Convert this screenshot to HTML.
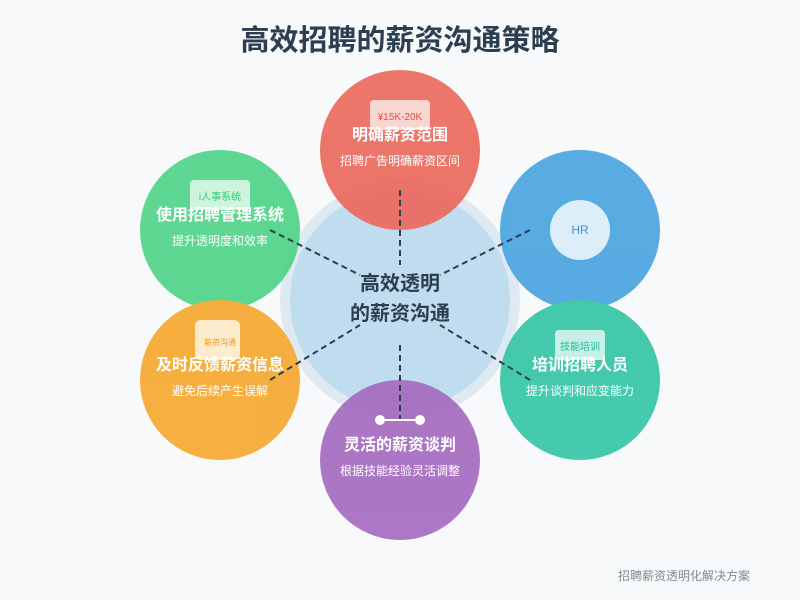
<!DOCTYPE html>
<html><head><meta charset="utf-8"><style>
html,body{margin:0;padding:0;background:#f7f9fb;}
svg{display:block;font-family:"Liberation Sans","Noto Sans CJK SC",sans-serif;}
</style></head><body>
<svg width="800" height="600" viewBox="0 0 800 600">
<rect width="800" height="600" fill="#f7f9fb"/>
<text x="400" y="50" text-anchor="middle" font-size="29" font-weight="bold" fill="#2c3e50">高效招聘的薪资沟通策略</text>
<circle cx="400" cy="300" r="120" fill="#dfe9f2"/>
<circle cx="400" cy="300" r="110" fill="#c0ddf0"/>
<g opacity="0.92">
<circle cx="400" cy="150" r="80" fill="#ec6a5e"/>
<circle cx="220" cy="230" r="80" fill="#4fd488"/>
<circle cx="580" cy="230" r="80" fill="#4aa5e0"/>
<circle cx="220" cy="380" r="80" fill="#f6a92f"/>
<circle cx="580" cy="380" r="80" fill="#35c6a6"/>
<circle cx="400" cy="460" r="80" fill="#a56bbf"/>
</g>
<text x="400" y="290" text-anchor="middle" font-size="20" font-weight="bold" fill="#2c3e50">高效透明</text>
<text x="400" y="320" text-anchor="middle" font-size="20" font-weight="bold" fill="#2c3e50">的薪资沟通</text>
<g stroke="#2c3e50" stroke-width="2" stroke-dasharray="6,4">
<line x1="400" y1="190" x2="400" y2="265"/>
<line x1="270" y1="230" x2="360" y2="275"/>
<line x1="530" y1="230" x2="440" y2="275"/>
<line x1="270" y1="380" x2="360" y2="325"/>
<line x1="530" y1="380" x2="440" y2="325"/>
<line x1="400" y1="345" x2="400" y2="420"/>
</g>
<rect x="370" y="100" width="60" height="30" rx="4" fill="#fff" opacity="0.7"/>
<text x="400" y="120" text-anchor="middle" font-size="10" fill="#e74c3c">¥15K-20K</text>
<rect x="190" y="180" width="60" height="30" rx="4" fill="#fff" opacity="0.7"/>
<text x="220" y="200" text-anchor="middle" font-size="10" fill="#2ecc71">i人事系统</text>
<circle cx="580" cy="230" r="30" fill="#fff" opacity="0.8"/>
<text x="580" y="234" text-anchor="middle" font-size="12" fill="#3498db">HR</text>
<rect x="195" y="320" width="45" height="40" rx="6" fill="#fff" opacity="0.75"/>
<text x="220" y="345" text-anchor="middle" font-size="8" fill="#f39c12">薪资沟通</text>
<rect x="555" y="330" width="50" height="30" rx="4" fill="#fff" opacity="0.7"/>
<text x="580" y="350" text-anchor="middle" font-size="10" fill="#1abc9c">技能培训</text>
<line x1="380" y1="420" x2="420" y2="420" stroke="#fff" stroke-width="2"/>
<circle cx="380" cy="420" r="5" fill="#fff"/>
<circle cx="420" cy="420" r="5" fill="#fff"/>
<g fill="#fff" text-anchor="middle">
<text x="400" y="140" font-size="16" font-weight="bold">明确薪资范围</text>
<text x="400" y="165" font-size="12">招聘广告明确薪资区间</text>
<text x="220" y="220" font-size="16" font-weight="bold">使用招聘管理系统</text>
<text x="220" y="245" font-size="12">提升透明度和效率</text>
<text x="220" y="370" font-size="16" font-weight="bold">及时反馈薪资信息</text>
<text x="220" y="395" font-size="12">避免后续产生误解</text>
<text x="580" y="370" font-size="16" font-weight="bold">培训招聘人员</text>
<text x="580" y="395" font-size="12">提升谈判和应变能力</text>
<text x="400" y="450" font-size="16" font-weight="bold">灵活的薪资谈判</text>
<text x="400" y="475" font-size="12">根据技能经验灵活调整</text>
</g>
<text x="750" y="580" text-anchor="end" font-size="12" fill="#7f8c8d">招聘薪资透明化解决方案</text>
</svg>
</body></html>
